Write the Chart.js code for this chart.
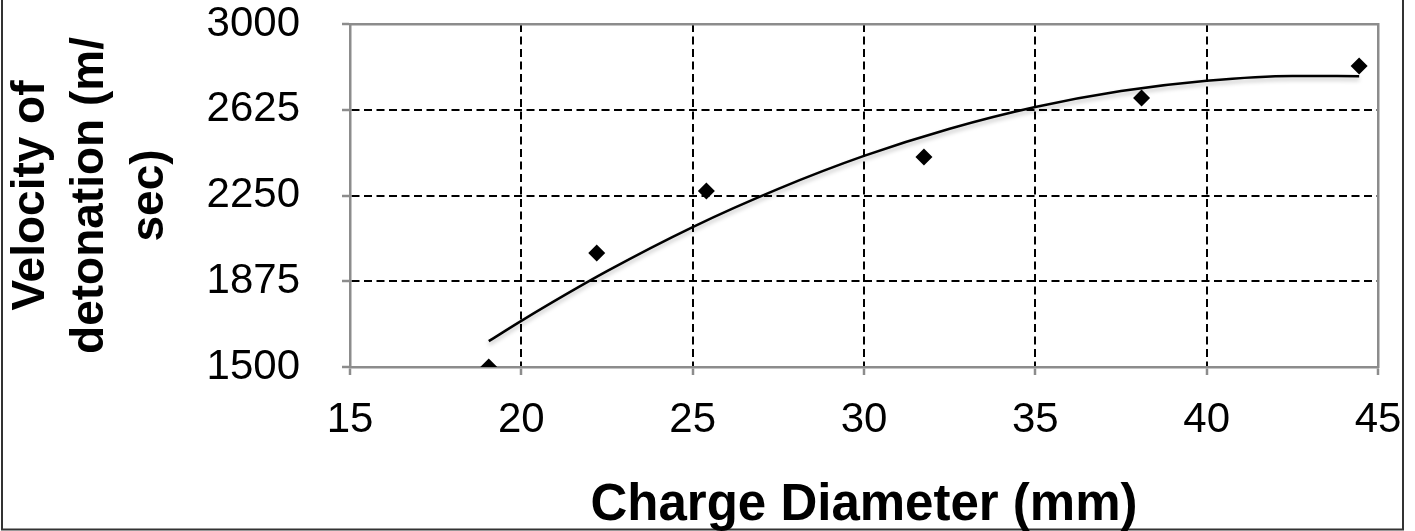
<!DOCTYPE html>
<html>
<head>
<meta charset="utf-8">
<script src="https://cdn.jsdelivr.net/npm/chart.js@4/dist/chart.umd.min.js"></script>
<style>
  html, body { margin: 0; padding: 0; background: #fff; }
  #wrap { width: 1415px; height: 531px; position: relative; }
</style>
</head>
<body>
<div id="wrap"><canvas id="vodChart"></canvas></div>
<script>
// measured points (charge diameter mm -> VOD m/s)
const diameters = [19.05, 22.2, 25.4, 31.75, 38.1, 44.45];
const velocities = [1500, 1998, 2270, 2418, 2676, 2816];

// trend curve
const trendX = [19.05, 20, 22.5, 25, 27.5, 30, 32.5, 35, 37.5, 40, 42.5, 44.45];
const trendY = [1613, 1702, 1919, 2112, 2279, 2423, 2542, 2637, 2707, 2752, 2773, 2772];

const xTicks = [15, 20, 25, 30, 35, 40, 45];
const yTicks = [1500, 1875, 2250, 2625, 3000];

const FONT = "'Liberation Sans', Arial, sans-serif";
const AXIS_GRAY = "#8c8c8c";

const frame = {
    id: "frame",
    beforeDraw(chart) {
        const ctx = chart.ctx;
        ctx.save();
        ctx.fillStyle = "#fff";
        ctx.fillRect(0, 0, chart.width, chart.height);
        ctx.strokeStyle = "#333";
        ctx.lineWidth = 2;
        ctx.beginPath();
        ctx.moveTo(2, 0);
        ctx.lineTo(2, 529.5);
        ctx.lineTo(1403, 529.5);
        ctx.lineTo(1403, 0);
        ctx.stroke();
        ctx.restore();
    },
    beforeDatasetDraw(chart, args) {
        if (args.index === 1) {
            chart.ctx.save();
            chart.ctx.shadowColor = "rgba(0,0,0,0.25)";
            chart.ctx.shadowBlur = 4;
            chart.ctx.shadowOffsetY = 3;
        }
    },
    afterDatasetDraw(chart, args) {
        if (args.index === 1) chart.ctx.restore();
    }
};

// keep the plot box where the reference has it (no label overflow padding)
function noPad(s) {
    s.paddingTop = 0;
    s.paddingBottom = 0;
    s.paddingLeft = 0;
    s.paddingRight = 0;
}

new Chart(document.getElementById("vodChart"), {
    type: "scatter",
    data: {
        datasets: [{
            label: "VOD",
            data: diameters.map((d, i) => ({ x: d, y: velocities[i] })),
            pointStyle: "rectRot",
            pointRadius: 8.5,
            backgroundColor: "#000",
            borderColor: "#000",
            borderWidth: 0,
        }, {
            label: "Trend",
            data: trendX.map((d, i) => ({ x: d, y: trendY[i] })),
            showLine: true,
            pointRadius: 0,
            borderColor: "#000",
            borderWidth: 2.5,
            cubicInterpolationMode: "monotone",
        }],
    },
    options: {
        responsive: true,
        maintainAspectRatio: false,
        animation: false,
        layout: { padding: { left: 0, top: 24, right: 37, bottom: 0 } },
        plugins: {
            legend: { display: false },
            tooltip: { enabled: false },
        },
        scales: {
            x: {
                type: "linear",
                min: 15,
                max: 45,
                afterBuildTicks: (s) => { s.ticks = xTicks.map((v) => ({ value: v })); },
                afterFit: (s) => { s.height = 164; noPad(s); },
                border: { display: true, color: AXIS_GRAY, width: 2.5, dash: [8, 4.5] },
                grid: {
                    color: (c) => (c.tick && (c.tick.value === 15 || c.tick.value === 45)) ? "rgba(0,0,0,0)" : "#000",
                    lineWidth: 2,
                    tickColor: AXIS_GRAY,
                    tickWidth: 2.5,
                    tickLength: 8,
                },
                ticks: {
                    color: "#000",
                    padding: 20,
                    font: { family: FONT, size: 42 },
                    maxRotation: 0,
                    callback: (v) => String(v),
                },
                title: {
                    display: true,
                    text: "Charge Diameter (mm)",
                    color: "#000",
                    font: { family: FONT, size: 51, weight: "bold", lineHeight: 1.0 },
                    padding: { top: 0, bottom: 0 },
                },
            },
            y: {
                type: "linear",
                min: 1500,
                max: 3000,
                afterBuildTicks: (s) => { s.ticks = yTicks.map((v) => ({ value: v })); },
                afterFit: (s) => { s.width = 350; noPad(s); },
                border: { display: true, color: AXIS_GRAY, width: 2.5, dash: [8, 4.5] },
                grid: {
                    color: (c) => (c.tick && (c.tick.value === 1500 || c.tick.value === 3000)) ? "rgba(0,0,0,0)" : "#000",
                    lineWidth: 2,
                    tickColor: AXIS_GRAY,
                    tickWidth: 2.5,
                    tickLength: 8,
                },
                ticks: {
                    color: "#000",
                    padding: 42,
                    font: { family: FONT, size: 42 },
                    callback: (v) => String(v),
                },
                title: {
                    display: true,
                    text: ["Velocity of", "detonation (m/", "sec)"],
                    color: "#000",
                    font: { family: FONT, size: 46, weight: "bold", lineHeight: 1.3 },
                    padding: { top: 1, bottom: 0 },
                },
            },
            xTop: {
                type: "linear",
                position: "top",
                min: 15,
                max: 45,
                afterFit: (s) => { s.height = 0; noPad(s); },
                grid: { display: false },
                ticks: { display: false },
                border: { display: true, color: AXIS_GRAY, width: 2.5 },
            },
            yRight: {
                type: "linear",
                position: "right",
                min: 1500,
                max: 3000,
                afterFit: (s) => { s.width = 0; noPad(s); },
                grid: { display: false },
                ticks: { display: false },
                border: { display: true, color: AXIS_GRAY, width: 2.5 },
            },
        },
    },
    plugins: [frame],
});
</script>
</body>
</html>
